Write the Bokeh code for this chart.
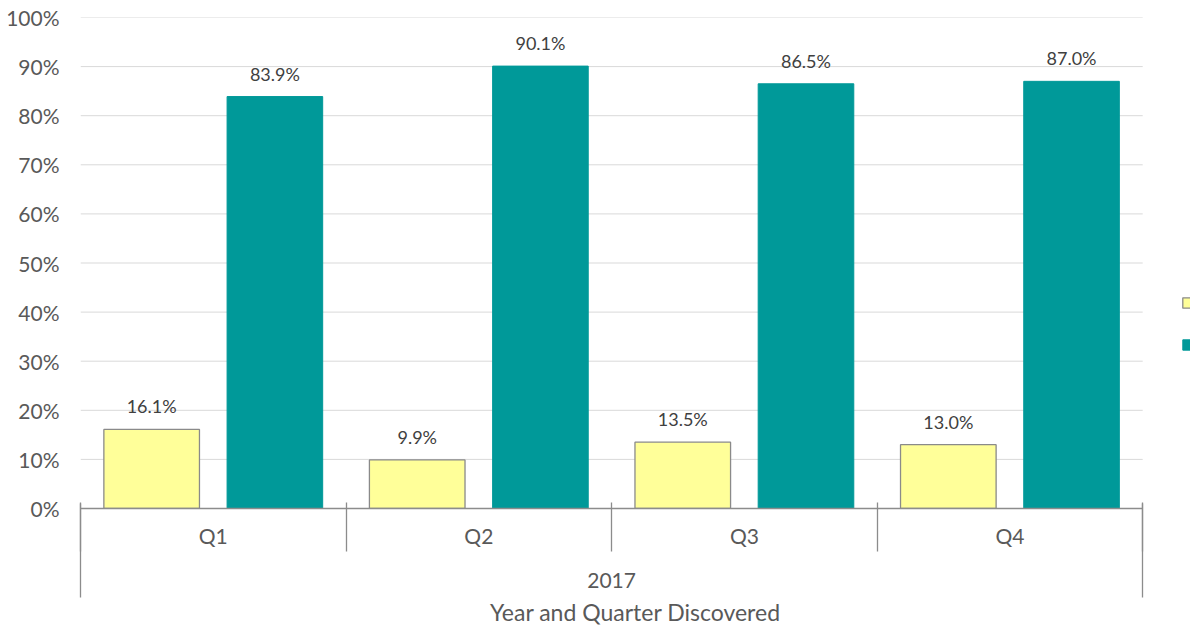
from bokeh.plotting import figure
from bokeh.models import (ColumnDataSource, Range1d, FixedTicker,
                          PrintfTickFormatter, LinearAxis, CustomJSTickFormatter, Legend, LegendItem)
from bokeh.transform import dodge
from bokeh.core.properties import value
from bokeh.embed import file_html
from bokeh.resources import INLINE

# ---- data ----
year = "2017"
quarters = ["Q1", "Q2", "Q3", "Q4"]
series_a = [16.1, 9.9, 13.5, 13.0]   # yellow
series_b = [83.9, 90.1, 86.5, 87.0]  # teal
y_ticks = [0, 10, 20, 30, 40, 50, 60, 70, 80, 90, 100]
x_title = "Year and Quarter Discovered"

FONT = "Lato"
YELLOW = "#FFFF99"
TEAL = "#009999"
GRAY_TXT = "#595959"
AXIS_GRAY = "#8c8c8c"

n = len(quarters)
# category i occupies [i, i+1] on the x scale; its centre is i + 0.5
src = ColumnDataSource(dict(
    xc=[i + 0.5 for i in range(n)],
    q=quarters,
    a=series_a,
    b=series_b,
    a_lbl=[f"{v:.1f}%" for v in series_a],
    b_lbl=[f"{v:.1f}%" for v in series_b],
))

# extra strip on the right holds the (cut-off) legend
p = figure(width=1190, height=628,
           x_range=Range1d(0, n + 0.18), y_range=Range1d(0, 100), x_axis_location=None,
           output_backend="svg", toolbar_location=None,
           min_border_left=80, min_border_right=0, min_border_top=17, min_border_bottom=119)
p.outline_line_color = None
p.background_fill_color = "white"
p.border_fill_color = "white"
p.xgrid.grid_line_color = None
p.ygrid.grid_line_color = None

# horizontal gridlines limited to the category area
grid_src = ColumnDataSource(dict(y=y_ticks[1:], x0=[0] * (len(y_ticks) - 1),
                                 x1=[n] * (len(y_ticks) - 1)))
p.segment(x0="x0", x1="x1", y0="y", y1="y", source=grid_src,
          line_color="#d9d9d9", line_width=1, level="underlay")

OFF = 0.232
W = 0.36
ra = p.vbar(x=dodge("xc", -OFF), top="a", width=W, source=src,
            fill_color=YELLOW, line_color="#8a8a8a", line_width=1.3)
rb = p.vbar(x=dodge("xc", OFF), top="b", width=W, source=src,
            fill_color=TEAL, line_color=TEAL, line_width=1)

for col, lbl, off in (("a", "a_lbl", -OFF), ("b", "b_lbl", OFF)):
    p.text(x=dodge("xc", off), y=col, text=lbl, source=src,
           text_font=value(FONT), text_font_size="18px", text_color="#404040",
           text_align="center", text_baseline="alphabetic", y_offset=-23)

# y axis
p.yaxis.ticker = FixedTicker(ticks=y_ticks)
p.yaxis.formatter = PrintfTickFormatter(format="%d%%")
p.yaxis.axis_line_color = None
p.yaxis.major_tick_line_color = None
p.yaxis.minor_tick_line_color = None
p.yaxis.major_tick_out = 0
p.yaxis.major_tick_in = 0
p.yaxis.major_label_standoff = 21
p.yaxis.major_label_text_font = FONT
p.yaxis.major_label_text_font_size = "21px"
p.yaxis.major_label_text_color = GRAY_TXT

# x axis level 1: quarter labels + category boundary ticks
ax1 = LinearAxis(ticker=FixedTicker(ticks=[i + 0.5 for i in range(n)],
                                    minor_ticks=list(range(n + 1))),
                 formatter=CustomJSTickFormatter(args=dict(labels=quarters),
                                                 code="return labels[Math.floor(tick)];"),
                 bounds=(0, n))
ax1.axis_line_color = AXIS_GRAY
ax1.axis_line_width = 1.3
ax1.major_tick_line_color = None
ax1.major_tick_out = 0
ax1.major_tick_in = 0
ax1.minor_tick_line_color = AXIS_GRAY
ax1.minor_tick_line_width = 1.3
ax1.minor_tick_in = 6
ax1.minor_tick_out = 43
ax1.major_label_standoff = -29
ax1.major_label_text_font = FONT
ax1.major_label_text_font_size = "21px"
ax1.major_label_text_color = GRAY_TXT
p.add_layout(ax1, "below")

# x axis level 2: year label, outer boundary lines, axis title
ax2 = LinearAxis(ticker=FixedTicker(ticks=[n / 2], minor_ticks=[0, n]),
                 formatter=CustomJSTickFormatter(args=dict(lbl=year), code="return lbl;"),
                 bounds=(0, n))
ax2.axis_line_color = None
ax2.major_tick_line_color = None
ax2.major_tick_out = 0
ax2.major_tick_in = 0
ax2.minor_tick_line_color = AXIS_GRAY
ax2.minor_tick_line_width = 1.3
ax2.minor_tick_in = 47
ax2.minor_tick_out = 47
ax2.major_label_standoff = -25
ax2.major_label_text_font = FONT
ax2.major_label_text_font_size = "21px"
ax2.major_label_text_color = GRAY_TXT
ax2.axis_label = x_title
ax2.axis_label_text_font = FONT
ax2.axis_label_text_font_size = "23px"
ax2.axis_label_text_font_style = "normal"
ax2.axis_label_text_color = GRAY_TXT
ax2.axis_label_standoff = 7
p.add_layout(ax2, "below")

# legend (cut off at the right edge, as in the original)
legend = Legend(items=[LegendItem(label=value(""), renderers=[ra]),
                       LegendItem(label=value(""), renderers=[rb])],
                location=(1101, 157), orientation="vertical",
                glyph_width=13, glyph_height=13, label_height=13, label_width=1,
                label_standoff=2,
                spacing=29, padding=0, margin=0,
                label_text_font_size="10px",
                border_line_color=None, background_fill_alpha=0)
p.add_layout(legend, "center")

open("out.html", "w").write(file_html(p, INLINE))
